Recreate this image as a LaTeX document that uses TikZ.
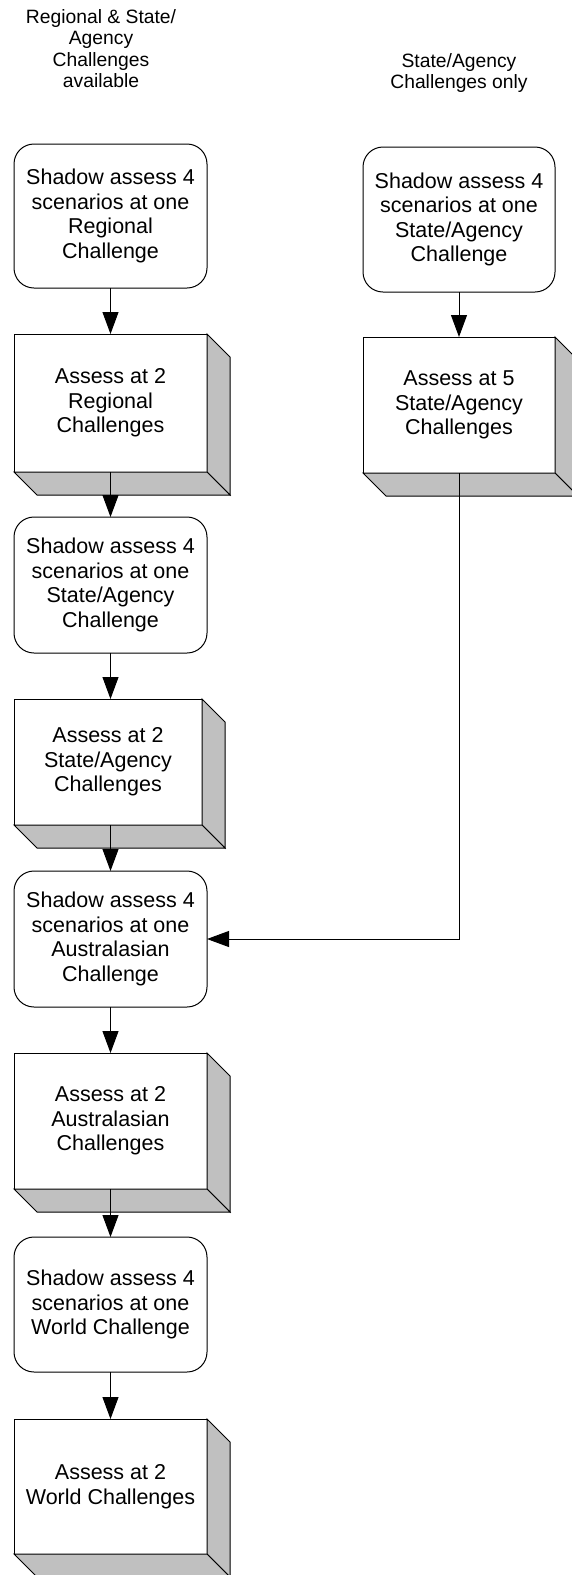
\documentclass[tikz,border=0pt]{standalone}
\usepackage{fontspec}
\setmainfont{Liberation Sans}
\usetikzlibrary{arrows.meta}
\definecolor{facegrey}{HTML}{C0C0C0}
\tikzset{
  boxbase/.style={draw=black, line width=1pt, fill=white, align=center, inner sep=0pt, outer sep=0pt, font=\fontsize{21.5}{24.5}\selectfont},
  roundbox/.style={boxbase, rounded corners=20pt, minimum width=193pt, minimum height=136pt},
  cubebox/.style={boxbase, minimum width=193pt, minimum height=136pt},
  face/.style={draw=black, line width=1pt, fill=facegrey, line join=miter},
  conn/.style={draw=black, line width=1pt, -{Triangle[length=22pt,width=16pt]}},
  headtext/.style={align=center, inner sep=0pt, anchor=north, font=\fontsize{19.3}{21.5}\selectfont},
}
\newcommand\cubefaces[1]{%
  \draw[face] (#1.north east) -- ++(23,23) -- ([shift={(23,23)}]#1.south east) -- (#1.south east) -- cycle;
  \draw[face] (#1.south west) -- ([shift={(23,23)}]#1.south west) -- ([shift={(23,23)}]#1.south east) -- (#1.south east) -- cycle;}
\begin{document}
\begin{tikzpicture}[x=1pt, y=-1pt]
\useasboundingbox (0,0) rectangle (571,1575);
% headers
\node[headtext] (hl) at (101,9) {Regional \& State/\\Agency\\Challenges\\available};
\node[headtext] (hr) at (459,53) {State/Agency\\Challenges only};
% left column
\node[roundbox, minimum height=144pt] (R1) at (110.5,216) {Shadow assess 4\\scenarios at one\\Regional\\Challenge};
\node[cubebox, minimum height=138pt] (B2) at (110.5,403) {Assess at 2\\Regional\\Challenges};
\cubefaces{B2}
\node[roundbox] (R3) at (110.5,585) {Shadow assess 4\\scenarios at one\\State/Agency\\Challenge};
\node[cubebox, minimum width=188pt, minimum height=126pt] (B4) at (108,762) {Assess at 2\\State/Agency\\Challenges};
\cubefaces{B4}
\node[roundbox] (R5) at (110.5,939) {Shadow assess 4\\scenarios at one\\Australasian\\Challenge};
\node[cubebox] (B6) at (110.5,1121) {Assess at 2\\Australasian\\Challenges};
\cubefaces{B6}
\node[roundbox, minimum height=135pt] (R7) at (110.5,1304.5) {Shadow assess 4\\scenarios at one\\World Challenge};
\node[cubebox, minimum height=135pt] (B8) at (110.5,1486.5) {Assess at 2\\World Challenges};
\cubefaces{B8}
% right column
\node[roundbox, minimum width=192pt, minimum height=145pt] (RR) at (459,219.5) {Shadow assess 4\\scenarios at one\\State/Agency\\Challenge};
\node[cubebox, minimum width=192pt] (RB) at (459,405) {Assess at 5\\State/Agency\\Challenges};
\cubefaces{RB}
% connectors
\draw[conn] (R1.south) -- (B2.north);
\draw[conn] (B2.south) -- (R3.north);
\draw[conn] (R3.south) -- (R3.south |- B4.north);
\draw[conn] (R5.north |- B4.south) -- (R5.north);
\draw[conn] (R5.south) -- (B6.north);
\draw[conn] (B6.south) -- (R7.north);
\draw[conn] (R7.south) -- (B8.north);
\draw[conn] (RR.south) -- (RB.north);
\draw[conn] (RB.south) |- (R5.east);
\end{tikzpicture}
\end{document}
